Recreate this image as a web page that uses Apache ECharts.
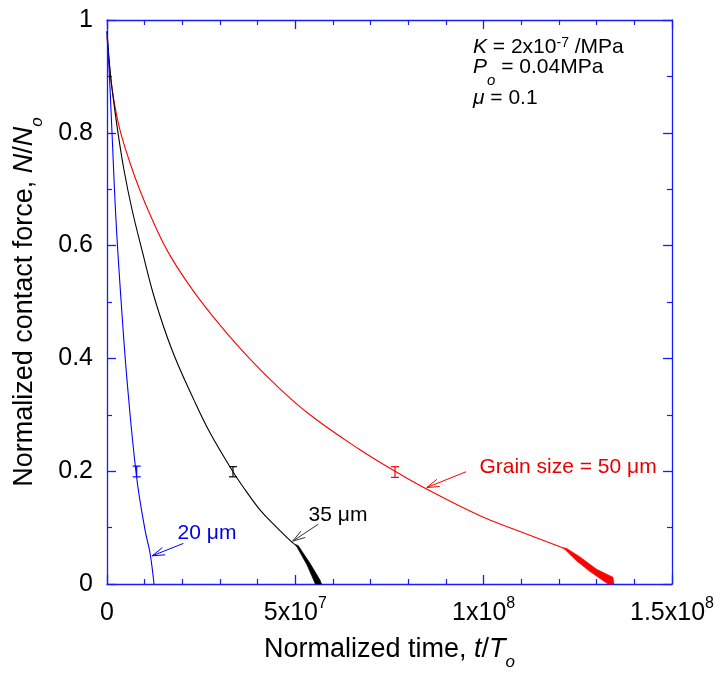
<!DOCTYPE html>
<html><head><meta charset="utf-8">
<script src="https://cdn.jsdelivr.net/npm/echarts@6/dist/echarts.min.js"></script>
<style>html,body{margin:0;padding:0;background:#fff}#c{width:723px;height:681px}</style>
</head><body><div id="c"></div>
<script>
// ---- tick labels ----
const xTickValues = [0, 5e7, 1e8, 1.5e8];
const xTickLabels = ['0', '5x10^7', '1x10^8', '1.5x10^8'];
const yTickValues = [0, 0.2, 0.4, 0.6, 0.8, 1];
const yTickLabels = ['0', '0.2', '0.4', '0.6', '0.8', '1'];

// ---- series: [t/To, N/No] ----
const grain20 = [[0,0.98],[0.66e6,0.899],[1.33e6,0.800],[2.39e6,0.645],[3.72e6,0.504],[5.31e6,0.362],[7.83e6,0.191],[10.09e6,0.096],[11.42e6,0.055],[12.48e6,0]];
const grain35 = [[0,0.98],[0.80e6,0.911],[1.73e6,0.858],[2.92e6,0.800],[4.51e6,0.734],[6.64e6,0.664],[9.29e6,0.592],[12.74e6,0.504],[17.26e6,0.415],[23.10e6,0.326],[27.35e6,0.268],[33.45e6,0.199],[36.69e6,0.167],[40.67e6,0.131],[44.97e6,0.101],[49.46e6,0.072]];
const grain35Wedge = [[49.46e6,0.072],[50.79e6,0.068],[53.9e6,0.0367],[56.55e6,0.0071],[56.95e6,0],[55.3e6,0],[53.1e6,0.0337],[50.4e6,0.066],[49.46e6,0.072]];
const grain50 = [[0,0.97],[0.53e6,0.929],[1.33e6,0.879],[2.39e6,0.837],[3.64e6,0.800],[6.14e6,0.746],[8.68e6,0.699],[11.68e6,0.651],[15.93e6,0.592],[21.50e6,0.533],[28.14e6,0.474],[35.71e6,0.415],[44.34e6,0.356],[53.89e6,0.300],[67.17e6,0.238],[76.46e6,0.200],[84.96e6,0.168],[99.03e6,0.121],[109.65e6,0.093],[120.27e6,0.066]];
const grain50Wedge = [[120.27e6,0.066],[122.05e6,0.063],[125.58e6,0.048],[130.0e6,0.026],[134.34e6,0.012],[134.6e6,0],[133.0e6,0],[128.23e6,0.022],[124.7e6,0.041],[121.6e6,0.061],[120.27e6,0.066]];

// error bars: [t, low, high]
const err20 = [[7.88e6, 0.190, 0.209]];
const err35 = [[33.45e6, 0.190, 0.208]];
const err50 = [[76.46e6, 0.189, 0.208]];

// arrows: [tipT, tipN, tailT, tailN]
const arrow20 = [[12.0e6, 0.050, 20.3e6, 0.072]];
const arrow35 = [[49.3e6, 0.076, 56.1e6, 0.106]];
const arrow50 = [[84.9e6, 0.171, 95.3e6, 0.199]];

const BLUE = '#0000ff', RED = '#ff0000', BLACK = '#000000', FRAME = '#1a1aff';
const TXT_BLUE = '#0000e6', TXT_RED = '#e60000';
const FONT = 'Liberation Sans, Arial, Helvetica, sans-serif';

function supRich(s) {
  const i = s.indexOf('^');
  if (i < 0) return '{b|' + s + '}';
  return '{b|' + s.slice(0, i) + '}{sup|' + s.slice(i + 1) + '}';
}
function lookup(vals, labels, v) {
  for (let i = 0; i < vals.length; i++) if (Math.abs(vals[i] - v) < 1e-6 * Math.max(1, Math.abs(vals[i]))) return labels[i];
  return '';
}

function errSeries(data, color) {
  return {
    type: 'custom', data: data, z: 5, silent: true,
    renderItem: function (params, api) {
      const t = api.value(0), lo = api.value(1), hi = api.value(2);
      const a = api.coord([t, lo]), b = api.coord([t, hi]);
      const w = 4, st = {stroke: color, lineWidth: 1.2};
      return {type: 'group', children: [
        {type: 'line', shape: {x1: a[0], y1: a[1], x2: b[0], y2: b[1]}, style: st},
        {type: 'line', shape: {x1: a[0] - w, y1: a[1], x2: a[0] + w, y2: a[1]}, style: st},
        {type: 'line', shape: {x1: b[0] - w, y1: b[1], x2: b[0] + w, y2: b[1]}, style: st}
      ]};
    }
  };
}
function wedgeSeries(pts, color) {
  return {
    type: 'custom', data: pts, z: 4, silent: true,
    renderItem: function (params, api) {
      if (params.dataIndex !== 0) return null;
      const poly = pts.map(p => api.coord(p));
      return {type: 'polygon', shape: {points: poly}, style: {fill: color, stroke: color, lineWidth: 0.6}};
    }
  };
}
function arrowSeries(data, color) {
  return {
    type: 'custom', data: data, z: 6, silent: true,
    renderItem: function (params, api) {
      const tip = api.coord([api.value(0), api.value(1)]);
      const tail = api.coord([api.value(2), api.value(3)]);
      const ang = Math.atan2(tail[1] - tip[1], tail[0] - tip[0]);
      const L = 13, sp = 0.3, st = {stroke: color, lineWidth: 1};
      const h1 = [tip[0] + L * Math.cos(ang + sp), tip[1] + L * Math.sin(ang + sp)];
      const h2 = [tip[0] + L * Math.cos(ang - sp), tip[1] + L * Math.sin(ang - sp)];
      return {type: 'group', children: [
        {type: 'line', shape: {x1: tail[0], y1: tail[1], x2: tip[0], y2: tip[1]}, style: st},
        {type: 'line', shape: {x1: tip[0], y1: tip[1], x2: h1[0], y2: h1[1]}, style: st},
        {type: 'line', shape: {x1: tip[0], y1: tip[1], x2: h2[0], y2: h2[1]}, style: st}
      ]};
    }
  };
}
function lineSeries(data, color) {
  return {type: 'line', data: data, showSymbol: false, symbol: 'none', smooth: 0.4, z: 3,
    lineStyle: {color: color, width: 1.1}, silent: true};
}

const axisCommon = {
  axisLine: {show: true, onZero: false, lineStyle: {color: FRAME, width: 1.3}},
  axisTick: {show: true, inside: true, length: 9, lineStyle: {color: FRAME, width: 1.3}},
  splitLine: {show: false}, minorSplitLine: {show: false}
};

const nameRich = {
  n: {fontSize: 27, fontFamily: FONT, color: '#000', verticalAlign: 'top', lineHeight: 35},
  i: {fontSize: 27, fontFamily: FONT, fontStyle: 'italic', color: '#000', verticalAlign: 'top', lineHeight: 35},
  sub: {fontSize: 17, fontFamily: FONT, fontStyle: 'italic', color: '#000', verticalAlign: 'bottom', lineHeight: 17}
};

const option = {
  animation: false,
  backgroundColor: '#fff',
  grid: {left: 107, top: 20, right: 51, bottom: 97, containLabel: false, outerBoundsMode: 'none'},
  xAxis: [
    Object.assign({}, axisCommon, {
      type: 'value', position: 'bottom', min: 0, max: 1.5e8, interval: 5e7,
      minorTick: {show: true, splitNumber: 5, length: 5, lineStyle: {color: FRAME, width: 1.2}},
      axisLabel: {
        show: true, margin: 12, color: '#000', fontFamily: FONT,
        showMinLabel: true, showMaxLabel: true,
        formatter: v => supRich(lookup(xTickValues, xTickLabels, v)),
        rich: {
          b: {fontSize: 25, fontFamily: FONT, color: '#000', verticalAlign: 'bottom', lineHeight: 30},
          sup: {fontSize: 16, fontFamily: FONT, color: '#000', verticalAlign: 'top', lineHeight: 16}
        }
      },
      name: '{n|Normalized time, }{i|t}{n|/}{i|T}{sub|o}',
      nameLocation: 'middle', nameGap: 52,
      nameTextStyle: {verticalAlign: 'top', rich: nameRich}
    }),
    Object.assign({}, axisCommon, {
      type: 'value', position: 'top', min: 0, max: 1.5e8, interval: 5e7,
      minorTick: {show: true, splitNumber: 5, length: 5, lineStyle: {color: FRAME, width: 1.2}},
      axisLabel: {show: false}
    })
  ],
  yAxis: [
    Object.assign({}, axisCommon, {
      type: 'value', position: 'left', min: 0, max: 1, interval: 0.2,
      minorTick: {show: true, splitNumber: 2, length: 5, lineStyle: {color: FRAME, width: 1.2}},
      axisLabel: {show: true, margin: 14, fontSize: 25, fontFamily: FONT, color: '#000',
        showMinLabel: true, showMaxLabel: true,
        formatter: v => lookup(yTickValues, yTickLabels, v)},
      name: '{n|Normalized contact force, }{i|N}{n|/}{i|N}{sub|o}',
      nameLocation: 'middle', nameGap: 96,
      nameTextStyle: {verticalAlign: 'top', rich: nameRich}
    }),
    Object.assign({}, axisCommon, {
      type: 'value', position: 'right', min: 0, max: 1, interval: 0.2,
      minorTick: {show: true, splitNumber: 2, length: 5, lineStyle: {color: FRAME, width: 1.2}},
      axisLabel: {show: false}
    })
  ],
  series: [
    lineSeries(grain50, RED),
    wedgeSeries(grain50Wedge, RED),
    lineSeries(grain35, BLACK),
    wedgeSeries(grain35Wedge, BLACK),
    lineSeries(grain20, BLUE),
    errSeries(err20, BLUE),
    errSeries(err35, BLACK),
    errSeries(err50, RED),
    arrowSeries(arrow20, BLUE),
    arrowSeries(arrow35, '#333333'),
    arrowSeries(arrow50, RED)
  ],
  graphic: [
    {type: 'text', x: 473, y: 36, z: 10, silent: true, style: {
      text: '{i|K}{n| = 2x10}{sup|-7}{n| /MPa}',
      rich: {
        i: {fontSize: 21, fontFamily: FONT, fontStyle: 'italic', fill: '#000', verticalAlign: 'bottom', lineHeight: 22},
        n: {fontSize: 21, fontFamily: FONT, fill: '#000', verticalAlign: 'bottom', lineHeight: 22},
        sup: {fontSize: 14, fontFamily: FONT, fill: '#000', verticalAlign: 'top', lineHeight: 14}
      }}},
    {type: 'text', x: 473, y: 56.5, z: 10, silent: true, style: {
      text: '{i|P}{sub|o}{n| = 0.04MPa}',
      rich: {
        i: {fontSize: 21, fontFamily: FONT, fontStyle: 'italic', fill: '#000', verticalAlign: 'top', lineHeight: 32},
        n: {fontSize: 21, fontFamily: FONT, fill: '#000', verticalAlign: 'top', lineHeight: 32},
        sub: {fontSize: 15, fontFamily: FONT, fontStyle: 'italic', fill: '#000', verticalAlign: 'bottom', lineHeight: 15}
      }}},
    {type: 'text', x: 473, y: 88, z: 10, silent: true, style: {
      text: '{i|μ}{n| = 0.1}',
      rich: {
        i: {fontSize: 21, fontFamily: FONT, fontStyle: 'italic', fill: '#000', verticalAlign: 'top', lineHeight: 22},
        n: {fontSize: 21, fontFamily: FONT, fill: '#000', verticalAlign: 'top', lineHeight: 22}
      }}},
    {type: 'text', x: 207, y: 533, z: 10, silent: true, style: {text: '20 μm', fontSize: 21, fontFamily: FONT, fill: TXT_BLUE, align: 'center', verticalAlign: 'middle'}},
    {type: 'text', x: 338, y: 515, z: 10, silent: true, style: {text: '35 μm', fontSize: 21, fontFamily: FONT, fill: '#000', align: 'center', verticalAlign: 'middle'}},
    {type: 'text', x: 568, y: 467, z: 10, silent: true, style: {text: 'Grain size = 50 μm', fontSize: 21, fontFamily: FONT, fill: TXT_RED, align: 'center', verticalAlign: 'middle'}}
  ]
};
const chart = echarts.init(document.getElementById('c'), null, {renderer: 'canvas'});
chart.setOption(option);
</script>
</body></html>
